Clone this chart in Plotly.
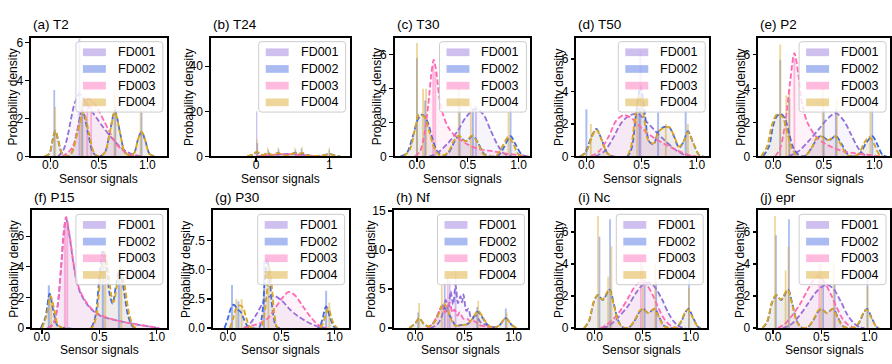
import plotly.graph_objects as go

# ---------------- data ----------------
SERIES = ["FD001", "FD002", "FD003", "FD004"]
SENSORS = ["T2", "T24", "T30", "T50", "P2", "P15", "P30", "Nf", "Nc", "epr"]
LETTERS = ["a", "b", "c", "d", "e", "f", "g", "h", "i", "j"]

X_TICK_VALS = [[0, 0.5, 1.0], [0, 1], [0, 0.5, 1.0], [0, 0.5, 1.0], [0, 0.5, 1.0],
               [0, 0.5, 1.0], [0, 0.5, 1.0], [0, 0.5, 1.0], [0, 0.5, 1.0], [0, 0.5, 1.0]]
X_TICK_TEXT = [["0.0", "0.5", "1.0"], ["0", "1"], ["0.0", "0.5", "1.0"], ["0.0", "0.5", "1.0"],
               ["0.0", "0.5", "1.0"], ["0.0", "0.5", "1.0"], ["0.0", "0.5", "1.0"],
               ["0.0", "0.5", "1.0"], ["0.0", "0.5", "1.0"], ["0.0", "0.5", "1.0"]]
Y_TICK_VALS = [[0, 2, 4, 6], [0, 20, 40], [0, 2, 4, 6], [0, 2, 4, 6], [0, 2, 4, 6],
               [0, 2, 4, 6], [0, 2.5, 5, 7.5], [0, 5, 10, 15], [0, 2, 4, 6], [0, 2, 4, 6]]
Y_TICK_TEXT = [["0", "2", "4", "6"], ["0", "20", "40"], ["0", "2", "4", "6"], ["0", "2", "4", "6"],
               ["0", "2", "4", "6"], ["0", "2", "4", "6"], ["0.0", "2.5", "5.0", "7.5"],
               ["0", "5", "10", "15"], ["0", "2", "4", "6"], ["0", "2", "4", "6"]]

# KDE curves: [signal, density]
KDE_T2 = {
    "FD001": [[0.08, 0], [0.13, 0.3], [0.17, 0.9], [0.21, 1.9], [0.25, 2.8], [0.3, 3.3], [0.35, 3.0],
              [0.41, 2.5], [0.48, 2.0], [0.55, 1.5], [0.62, 1.05], [0.7, 0.6], [0.77, 0.3], [0.85, 0.1], [0.95, 0]],
    "FD002": [[-0.06, 0], [-0.01, 0.15], [0.02, 0.8], [0.05, 1.35], [0.08, 0.85], [0.12, 0.15], [0.17, 0],
              [0.22, 0.2], [0.27, 1.2], [0.33, 2.4], [0.39, 1.2], [0.44, 0.2], [0.5, 0], [0.56, 0.2],
              [0.61, 1.2], [0.665, 2.4], [0.72, 1.2], [0.77, 0.2], [0.83, 0.05], [0.87, 0.25], [0.9, 0.85],
              [0.94, 1.3], [0.98, 0.8], [1.02, 0.15], [1.07, 0]],
    "FD003": [[0.12, 0], [0.18, 0.2], [0.23, 0.5], [0.3, 1.8], [0.35, 2.7], [0.39, 3.05], [0.44, 2.9],
              [0.49, 2.5], [0.55, 1.9], [0.62, 1.2], [0.68, 0.65], [0.74, 0.35], [0.8, 0.14], [0.88, 0.02], [0.95, 0]],
    "FD004": [[-0.06, 0], [-0.01, 0.15], [0.02, 0.8], [0.05, 1.35], [0.08, 0.9], [0.12, 0.15], [0.17, 0],
              [0.22, 0.2], [0.28, 1.25], [0.34, 2.35], [0.4, 1.2], [0.45, 0.2], [0.5, 0], [0.56, 0.2],
              [0.61, 1.2], [0.665, 2.35], [0.72, 1.2], [0.77, 0.2], [0.83, 0.05], [0.87, 0.25], [0.9, 0.85],
              [0.94, 1.3], [0.98, 0.8], [1.02, 0.15], [1.07, 0]],
}
KDE_T24 = {
    "FD001": [[0.05, 0], [0.2, 0.5], [0.35, 1.0], [0.5, 1.1], [0.65, 0.7], [0.8, 0.2], [0.95, 0]],
    "FD002": [[-0.12, 0], [-0.04, 0.8], [0.01, 2.0], [0.06, 0.9], [0.1, 0.6], [0.16, 1.5], [0.22, 0.6],
              [0.3, 1.4], [0.38, 0.4], [0.45, 0.6], [0.53, 1.6], [0.58, 1.0], [0.63, 1.5], [0.72, 0.4],
              [0.82, 0.2], [0.92, 0.5], [1.0, 1.1], [1.08, 0.3], [1.15, 0]],
    "FD003": [[0.0, 0], [0.15, 0.5], [0.3, 0.9], [0.45, 1.0], [0.6, 0.6], [0.75, 0.2], [0.9, 0]],
    "FD004": [[-0.12, 0], [-0.04, 0.9], [0.01, 2.1], [0.06, 1.0], [0.1, 0.6], [0.16, 1.5], [0.22, 0.6],
              [0.3, 1.5], [0.38, 0.4], [0.45, 0.6], [0.53, 1.5], [0.58, 1.0], [0.63, 1.6], [0.72, 0.4],
              [0.82, 0.2], [0.92, 0.5], [1.0, 1.0], [1.08, 0.3], [1.15, 0]],
}
KDE_T30 = {
    "FD001": [[0.12, 0], [0.2, 0.2], [0.3, 0.75], [0.4, 1.5], [0.48, 2.3], [0.57, 2.8], [0.65, 2.5],
              [0.72, 1.6], [0.8, 0.6], [0.86, 0.15], [0.93, 0]],
    "FD002": [[-0.16, 0], [-0.1, 0.2], [-0.04, 1.2], [0.01, 2.2], [0.05, 2.47], [0.1, 2.1], [0.15, 1.1],
              [0.2, 0.3], [0.26, 0.02], [0.32, 0.3], [0.37, 0.9], [0.41, 1.2], [0.48, 0.9], [0.55, 1.22],
              [0.6, 0.8], [0.66, 0.15], [0.72, 0], [0.8, 0.05], [0.86, 0.6], [0.92, 1.2], [0.97, 0.7],
              [1.03, 0.1], [1.08, 0]],
    "FD003": [[-0.02, 0], [0.03, 0.3], [0.07, 1.2], [0.11, 3.0], [0.14, 4.8], [0.165, 5.7], [0.19, 5.0],
              [0.22, 3.5], [0.26, 2.4], [0.32, 1.6], [0.4, 1.1], [0.5, 0.7], [0.6, 0.45], [0.75, 0.3],
              [0.9, 0.15], [1.0, 0.08], [1.1, 0]],
    "FD004": [[-0.13, 0], [-0.07, 0.4], [-0.02, 1.6], [0.02, 2.45], [0.07, 2.35], [0.12, 1.5], [0.17, 0.5],
              [0.23, 0.05], [0.3, 0.2], [0.36, 0.9], [0.41, 1.22], [0.48, 0.9], [0.54, 1.23], [0.6, 0.8],
              [0.65, 0.15], [0.71, 0], [0.78, 0.05], [0.84, 0.6], [0.9, 1.15], [0.95, 0.7], [1.0, 0.1], [1.05, 0]],
}
KDE_T50 = {
    "FD001": [[0.08, 0], [0.16, 0.3], [0.24, 1.1], [0.32, 2.1], [0.4, 2.55], [0.47, 2.6], [0.55, 2.1],
              [0.62, 1.6], [0.7, 1.05], [0.8, 0.45], [0.88, 0.12], [0.95, 0]],
    "FD002": [[-0.06, 0], [-0.01, 0.25], [0.04, 1.1], [0.09, 1.7], [0.14, 1.0], [0.19, 0.2], [0.24, 0],
              [0.37, 0], [0.41, 0.5], [0.45, 2.6], [0.49, 4.3], [0.53, 2.6], [0.57, 0.9], [0.61, 0.75],
              [0.65, 1.5], [0.7, 1.8], [0.75, 1.8], [0.79, 1.3], [0.84, 0.55], [0.88, 0.9], [0.92, 1.55],
              [0.97, 0.8], [1.02, 0.1], [1.06, 0]],
    "FD003": [[0.04, 0], [0.12, 0.35], [0.2, 1.2], [0.27, 2.2], [0.34, 2.55], [0.41, 2.35], [0.5, 1.75],
              [0.6, 1.2], [0.7, 0.8], [0.8, 0.45], [0.88, 0.2], [0.95, 0.05], [1.0, 0]],
    "FD004": [[-0.05, 0], [0.0, 0.3], [0.05, 1.2], [0.09, 1.65], [0.14, 1.0], [0.19, 0.2], [0.24, 0],
              [0.36, 0], [0.4, 0.5], [0.44, 2.3], [0.48, 3.8], [0.52, 2.5], [0.56, 1.0], [0.61, 0.8],
              [0.65, 1.5], [0.7, 1.75], [0.75, 1.8], [0.79, 1.35], [0.84, 0.6], [0.88, 0.9], [0.92, 1.5],
              [0.97, 0.8], [1.02, 0.1], [1.06, 0]],
}
KDE_P2 = {
    "FD001": [[0.15, 0], [0.25, 0.3], [0.35, 0.9], [0.45, 1.6], [0.55, 2.3], [0.62, 2.55], [0.7, 2.1],
              [0.77, 1.3], [0.84, 0.5], [0.9, 0.1], [0.96, 0]],
    "FD002": [[-0.1, 0], [-0.04, 0.6], [0.0, 1.8], [0.04, 2.4], [0.08, 2.5], [0.12, 2.2], [0.16, 1.3],
              [0.2, 0.5], [0.26, 0.05], [0.32, 0.05], [0.38, 0.5], [0.44, 1.1], [0.48, 1.2], [0.55, 0.95],
              [0.62, 1.2], [0.68, 0.7], [0.74, 0.1], [0.8, 0], [0.86, 0.2], [0.92, 0.8], [0.98, 1.2],
              [1.03, 0.7], [1.08, 0.1], [1.12, 0]],
    "FD003": [[0.02, 0], [0.07, 0.5], [0.12, 2.0], [0.17, 4.5], [0.21, 6.1], [0.25, 4.8], [0.29, 3.0],
              [0.34, 2.0], [0.42, 1.2], [0.5, 0.8], [0.6, 0.5], [0.7, 0.3], [0.8, 0.2], [0.9, 0.12],
              [1.0, 0.05], [1.08, 0]],
    "FD004": [[-0.12, 0], [-0.06, 0.6], [-0.01, 1.9], [0.04, 2.5], [0.09, 2.35], [0.14, 1.4], [0.19, 0.4],
              [0.25, 0], [0.32, 0.05], [0.38, 0.5], [0.43, 1.1], [0.47, 1.2], [0.53, 0.95], [0.57, 1.05],
              [0.61, 1.2], [0.67, 0.7], [0.73, 0.1], [0.8, 0], [0.85, 0.2], [0.9, 0.8], [0.95, 1.15],
              [1.0, 0.7], [1.05, 0.1], [1.09, 0]],
}
KDE_P15 = {
    "FD001": [[0.05, 0], [0.1, 0.3], [0.135, 1.4], [0.165, 3.8], [0.19, 6.2], [0.21, 7.15], [0.24, 6.0],
              [0.27, 4.4], [0.3, 3.1], [0.34, 2.2], [0.42, 1.3], [0.51, 0.8], [0.65, 0.5], [0.8, 0.27],
              [0.94, 0.1], [1.02, 0]],
    "FD002": [[-0.01, 0], [0.03, 0.7], [0.067, 2.25], [0.1, 1.1], [0.14, 0.1], [0.2, 0], [0.42, 0],
              [0.46, 0.6], [0.5, 3.3], [0.53, 5.1], [0.56, 4.0], [0.59, 2.2], [0.615, 1.6], [0.645, 2.8],
              [0.675, 3.8], [0.71, 2.6], [0.75, 0.8], [0.79, 0.1], [0.83, 0]],
    "FD003": [[0.05, 0], [0.1, 0.3], [0.135, 1.4], [0.165, 3.9], [0.19, 6.3], [0.21, 7.25], [0.24, 6.1],
              [0.27, 4.5], [0.3, 3.2], [0.34, 2.3], [0.42, 1.35], [0.51, 0.85], [0.65, 0.5], [0.8, 0.27],
              [0.94, 0.1], [1.02, 0]],
    "FD004": [[0.0, 0], [0.04, 0.8], [0.075, 2.1], [0.105, 1.3], [0.14, 0.2], [0.19, 0], [0.43, 0],
              [0.47, 0.7], [0.51, 3.4], [0.545, 4.95], [0.58, 3.6], [0.605, 2.1], [0.625, 1.7], [0.655, 2.9],
              [0.685, 3.95], [0.72, 2.8], [0.76, 0.9], [0.8, 0.1], [0.84, 0]],
}
KDE_P30 = {
    "FD001": [[0.15, 0], [0.2, 0.3], [0.27, 1.2], [0.34, 2.3], [0.42, 2.8], [0.5, 2.4], [0.58, 1.6],
              [0.66, 1.0], [0.74, 0.55], [0.82, 0.2], [0.88, 0.05], [0.92, 0]],
    "FD002": [[-0.03, 0], [0.0, 0.8], [0.04, 1.9], [0.06, 2.0], [0.09, 1.6], [0.12, 1.4], [0.15, 0.8],
              [0.19, 0.1], [0.22, 0], [0.29, 0], [0.32, 1.0], [0.35, 4.5], [0.37, 5.9], [0.39, 4.5],
              [0.42, 1.5], [0.45, 0.2], [0.48, 0], [0.85, 0], [0.88, 0.6], [0.92, 1.85], [0.96, 0.8],
              [1.0, 0.05], [1.03, 0]],
    "FD003": [[0.15, 0], [0.22, 0.2], [0.3, 0.4], [0.38, 0.9], [0.45, 1.8], [0.52, 2.7], [0.57, 3.1],
              [0.63, 2.8], [0.7, 1.9], [0.77, 1.0], [0.83, 0.4], [0.88, 0.1], [0.93, 0]],
    "FD004": [[0.02, 0], [0.05, 0.8], [0.08, 1.7], [0.11, 1.95], [0.14, 1.8], [0.17, 1.0], [0.2, 0.2],
              [0.23, 0], [0.31, 0], [0.34, 1.0], [0.37, 3.5], [0.39, 5.4], [0.41, 3.8], [0.44, 1.0],
              [0.47, 0], [0.86, 0], [0.9, 0.7], [0.94, 1.7], [0.98, 0.6], [1.02, 0]],
}
KDE_NF = {
    "FD001": [[0.15, 0], [0.22, 0.4], [0.27, 1.5], [0.31, 3.6], [0.335, 2.3], [0.36, 4.7], [0.385, 3.0],
              [0.41, 5.5], [0.435, 3.2], [0.46, 4.1], [0.475, 3.3], [0.49, 4.3], [0.52, 2.2], [0.54, 2.5],
              [0.57, 1.3], [0.62, 1.6], [0.66, 0.8], [0.72, 0.4], [0.8, 0.1], [0.85, 0]],
    "FD002": [[-0.06, 0], [0.0, 0.6], [0.04, 1.27], [0.09, 0.5], [0.14, 0.2], [0.2, 0.9], [0.25, 2.3],
              [0.28, 2.9], [0.32, 2.2], [0.37, 1.2], [0.41, 0.3], [0.47, 0.4], [0.53, 0.5], [0.58, 1.1],
              [0.63, 2.1], [0.68, 1.4], [0.73, 0.5], [0.78, 0.05], [0.85, 0.3], [0.92, 1.27], [0.98, 0.4],
              [1.03, 0]],
    "FD003": [[0.12, 0], [0.18, 0.6], [0.23, 1.8], [0.27, 2.8], [0.3, 2.0], [0.33, 2.9], [0.35, 3.2],
              [0.38, 2.0], [0.4, 2.4], [0.43, 1.6], [0.45, 2.0], [0.49, 1.2], [0.53, 1.2], [0.57, 0.7],
              [0.6, 0.9], [0.65, 0.4], [0.72, 0.2], [0.8, 0]],
    "FD004": [[-0.06, 0], [0.0, 0.6], [0.04, 1.27], [0.09, 0.5], [0.14, 0.2], [0.21, 1.0], [0.26, 2.6],
              [0.29, 3.2], [0.33, 2.3], [0.37, 1.0], [0.41, 0.3], [0.47, 0.4], [0.53, 0.5], [0.58, 1.2],
              [0.64, 2.2], [0.69, 1.3], [0.74, 0.4], [0.78, 0.05], [0.85, 0.3], [0.92, 1.27], [0.98, 0.4],
              [1.03, 0]],
}
KDE_NC = {
    "FD001": [[0.08, 0], [0.15, 0.15], [0.25, 0.7], [0.35, 1.4], [0.43, 2.2], [0.5, 2.7], [0.56, 2.85],
              [0.62, 2.6], [0.7, 1.8], [0.77, 0.9], [0.84, 0.3], [0.9, 0.05], [0.95, 0]],
    "FD002": [[-0.11, 0], [-0.06, 0.4], [-0.01, 1.6], [0.035, 2.08], [0.085, 1.75], [0.155, 2.4], [0.2, 1.5],
              [0.25, 0.4], [0.3, 0.03], [0.36, 0.05], [0.42, 0.5], [0.47, 1.05], [0.505, 1.2], [0.555, 0.95],
              [0.625, 1.2], [0.67, 0.7], [0.72, 0.15], [0.78, 0], [0.85, 0.05], [0.9, 0.4], [0.94, 0.95],
              [0.975, 1.2], [1.02, 0.7], [1.07, 0.1], [1.1, 0]],
    "FD003": [[0.06, 0], [0.12, 0.2], [0.2, 0.6], [0.28, 1.2], [0.36, 2.0], [0.43, 2.7], [0.48, 2.9],
              [0.54, 2.7], [0.6, 2.1], [0.66, 1.3], [0.72, 0.6], [0.78, 0.2], [0.84, 0.03], [0.88, 0]],
    "FD004": [[-0.11, 0], [-0.06, 0.45], [-0.01, 1.65], [0.03, 2.05], [0.08, 1.78], [0.15, 2.4], [0.2, 1.45],
              [0.25, 0.35], [0.3, 0.03], [0.36, 0.05], [0.42, 0.55], [0.47, 1.1], [0.5, 1.2], [0.555, 0.95],
              [0.62, 1.2], [0.67, 0.65], [0.72, 0.12], [0.78, 0], [0.85, 0.05], [0.9, 0.45], [0.94, 1.0],
              [0.97, 1.15], [1.02, 0.65], [1.07, 0.1], [1.1, 0]],
}
KDE_EPR = {
    "FD001": [[0.1, 0], [0.18, 0.2], [0.27, 0.75], [0.36, 1.5], [0.44, 2.2], [0.5, 2.55], [0.56, 2.7],
              [0.62, 2.5], [0.7, 1.7], [0.77, 0.85], [0.84, 0.3], [0.9, 0.05], [0.95, 0]],
    "FD002": [[-0.11, 0], [-0.06, 0.4], [-0.01, 1.6], [0.035, 2.05], [0.085, 1.75], [0.155, 2.4], [0.2, 1.5],
              [0.25, 0.4], [0.3, 0.03], [0.36, 0.05], [0.42, 0.5], [0.47, 1.05], [0.505, 1.2], [0.555, 0.95],
              [0.625, 1.2], [0.67, 0.7], [0.72, 0.15], [0.78, 0], [0.85, 0.05], [0.9, 0.4], [0.94, 0.95],
              [0.975, 1.2], [1.02, 0.7], [1.07, 0.1], [1.1, 0]],
    "FD003": [[0.05, 0], [0.12, 0.25], [0.2, 0.8], [0.28, 1.5], [0.36, 2.4], [0.42, 3.0], [0.47, 3.25],
              [0.53, 2.9], [0.6, 2.1], [0.66, 1.3], [0.72, 0.6], [0.78, 0.2], [0.84, 0.03], [0.88, 0]],
    "FD004": [[-0.11, 0], [-0.06, 0.45], [-0.01, 1.65], [0.03, 2.05], [0.08, 1.78], [0.15, 2.4], [0.2, 1.45],
              [0.25, 0.35], [0.3, 0.03], [0.36, 0.05], [0.42, 0.55], [0.47, 1.1], [0.5, 1.2], [0.555, 0.95],
              [0.62, 1.2], [0.67, 0.65], [0.72, 0.12], [0.78, 0], [0.85, 0.05], [0.9, 0.45], [0.94, 1.0],
              [0.97, 1.15], [1.02, 0.65], [1.07, 0.1], [1.1, 0]],
}

# tallest histogram bars: [signal, density]
SPIKES_T2 = {"FD001": [[0.3, 6.2]], "FD002": [[0.04, 3.5], [0.33, 3.0], [0.67, 2.6], [0.94, 2.3]],
             "FD003": [[0.38, 3.1], [0.42, 3.0]], "FD004": [[0.05, 2.6], [0.32, 2.9], [0.66, 3.5], [0.93, 2.6]]}
SPIKES_T24 = {"FD001": [[0.01, 20.0]], "FD002": [[0.02, 6.0], [0.17, 3.0], [0.31, 3.2], [0.54, 3.0], [0.62, 3.5], [1.0, 3.0]],
              "FD003": [], "FD004": [[0.01, 7.5], [0.16, 4.0], [0.3, 4.0], [0.53, 3.8], [0.63, 4.2], [1.0, 4.0]]}
SPIKES_T30 = {"FD001": [[0.58, 3.0]], "FD002": [[0.0, 5.8], [0.08, 3.3], [0.42, 2.9], [0.55, 2.8], [0.92, 3.3]],
              "FD003": [[0.16, 5.4], [0.18, 5.0]], "FD004": [[0.0, 6.7], [0.06, 4.0], [0.09, 4.0], [0.41, 4.0], [0.53, 3.2], [0.9, 2.6]]}
SPIKES_T50 = {"FD001": [[0.49, 6.5]], "FD002": [[0.0, 2.9], [0.48, 3.0], [0.65, 2.7], [0.9, 2.9]],
              "FD003": [], "FD004": [[0.04, 2.0], [0.46, 3.5], [0.72, 2.0], [0.92, 2.0]]}
SPIKES_P2 = {"FD001": [], "FD002": [[0.07, 5.7], [0.16, 3.4], [0.5, 2.8], [0.62, 2.8], [0.98, 3.3]],
             "FD003": [[0.21, 5.8]], "FD004": [[0.07, 6.6], [0.13, 3.6], [0.16, 4.0], [0.49, 4.0], [0.63, 3.4], [0.96, 3.0]]}
SPIKES_P15 = {"FD001": [], "FD002": [[0.06, 2.8], [0.53, 4.6], [0.67, 3.4]],
              "FD003": [[0.2, 6.8], [0.22, 7.0]], "FD004": [[0.08, 2.0], [0.55, 4.8], [0.69, 3.9]]}
SPIKES_P30 = {"FD001": [], "FD002": [[0.04, 3.7], [0.1, 2.3], [0.34, 5.8], [0.92, 3.2]],
              "FD003": [], "FD004": [[0.08, 2.5], [0.13, 2.5], [0.38, 5.5], [0.95, 2.2]]}
SPIKES_NF = {"FD001": [[0.35, 6.0], [0.41, 7.5]], "FD002": [[0.03, 2.0], [0.3, 5.8], [0.63, 2.7], [0.92, 2.5]],
             "FD003": [[0.33, 6.5]], "FD004": [[0.04, 3.2], [0.27, 5.5], [0.64, 3.5], [0.93, 2.0]]}
SPIKES_NC = {"FD001": [], "FD002": [[0.05, 5.7], [0.16, 6.8], [0.52, 3.0], [0.64, 2.9], [0.98, 3.0]],
             "FD003": [[0.48, 4.2]], "FD004": [[0.035, 7.0], [0.14, 3.2], [0.175, 5.1], [0.5, 3.9], [0.63, 4.0], [0.98, 2.5]]}
SPIKES_EPR = {"FD001": [], "FD002": [[0.03, 5.8], [0.165, 6.8], [0.52, 3.0], [0.64, 2.8], [0.98, 3.0]],
              "FD003": [[0.48, 4.0]], "FD004": [[0.02, 7.0], [0.13, 3.6], [0.16, 5.1], [0.5, 4.0], [0.63, 4.1], [0.98, 2.6]]}

KDE = {"T2": KDE_T2, "T24": KDE_T24, "T30": KDE_T30, "T50": KDE_T50, "P2": KDE_P2,
       "P15": KDE_P15, "P30": KDE_P30, "Nf": KDE_NF, "Nc": KDE_NC, "epr": KDE_EPR}
SPIKES = {"T2": SPIKES_T2, "T24": SPIKES_T24, "T30": SPIKES_T30, "T50": SPIKES_T50, "P2": SPIKES_P2,
          "P15": SPIKES_P15, "P30": SPIKES_P30, "Nf": SPIKES_NF, "Nc": SPIKES_NC, "epr": SPIKES_EPR}

# ---------------- layout / style ----------------
W, H = 892, 364
FONT = "Liberation Sans, Arial, sans-serif"
COLORS = {"FD001": (147, 112, 219), "FD002": (65, 105, 225), "FD003": (255, 105, 180), "FD004": (218, 165, 32)}
# panel frames in pixels: left, right, top, bottom
FRAMES = [(31, 167, 33, 156), (211, 350, 33, 156), (395, 531, 33, 156), (577, 710, 33, 156), (759, 891, 33, 156),
          (32, 167, 212, 334), (213, 349, 212, 334), (394, 529, 212, 334), (577, 708, 212, 334), (759, 891, 212, 334)]
X_RANGE = [[-0.2, 1.2], [-0.617, 1.277], [-0.22, 1.115], [-0.091, 1.113], [-0.148, 1.155],
           [-0.087, 1.087], [-0.14, 1.13], [-0.22, 1.15], [-0.19, 1.17], [-0.155, 1.214]]
Y_MAX = [6.25, 52.6, 7.0, 7.3, 7.0, 7.68, 10.1, 15.07, 7.35, 7.35]


def rgba(c, a):
    return f"rgba({c[0]},{c[1]},{c[2]},{a})"


def px(x):
    return x / W


def py(y):
    return 1 - y / H


def rounded_rect(x0, y0, x1, y1, r):
    def P(x, y):
        return f"{px(x):.5f},{py(y):.5f}"
    return " ".join([
        f"M {P(x0 + r, y0)}", f"L {P(x1 - r, y0)}", f"Q {P(x1, y0)} {P(x1, y0 + r)}",
        f"L {P(x1, y1 - r)}", f"Q {P(x1, y1)} {P(x1 - r, y1)}", f"L {P(x0 + r, y1)}",
        f"Q {P(x0, y1)} {P(x0, y1 - r)}", f"L {P(x0, y0 + r)}", f"Q {P(x0, y0)} {P(x0 + r, y0)} Z"])


fig = go.Figure()
layout = dict(width=W, height=H, margin=dict(l=0, r=0, t=0, b=0), showlegend=False,
              paper_bgcolor="white", plot_bgcolor="white", barmode="overlay",
              font=dict(family=FONT, size=12, color="black"))
shapes, annotations = [], []

for i, sensor in enumerate(SENSORS):
    n = i + 1
    sfx = "" if n == 1 else str(n)
    L, R, T, B = FRAMES[i]
    ax = dict(showline=True, linecolor="black", linewidth=2, mirror=True, ticks="outside",
              ticklen=3.5, tickwidth=1.2, tickcolor="black", showgrid=False, zeroline=False,
              tickfont=dict(family=FONT, size=12, color="black"))
    layout["xaxis" + sfx] = dict(ax, domain=[px(L), px(R)], anchor="y" + sfx, range=X_RANGE[i],
                                 tickmode="array", tickvals=X_TICK_VALS[i], ticktext=X_TICK_TEXT[i],
                                 ticklabelstandoff=-7)
    layout["yaxis" + sfx] = dict(ax, domain=[py(B), py(T)], anchor="x" + sfx, range=[0, Y_MAX[i]],
                                 tickmode="array", tickvals=Y_TICK_VALS[i], ticktext=Y_TICK_TEXT[i])

    spikes = SPIKES[sensor]
    for ser in SERIES:
        pts = spikes.get(ser, [])
        if pts:
            fig.add_trace(go.Bar(x=[p[0] for p in pts], y=[p[1] for p in pts], width=0.018,
                                 marker=dict(color=rgba(COLORS[ser], 0.45), line=dict(width=0)),
                                 xaxis="x" + sfx, yaxis="y" + sfx, hoverinfo="skip"))
    kde = KDE[sensor]
    for ser in SERIES:
        pts = kde[ser]
        fig.add_trace(go.Scatter(x=[p[0] for p in pts], y=[p[1] for p in pts], mode="lines",
                                 line=dict(color=rgba(COLORS[ser], 1), width=1.8, dash="5.5px,2.5px",
                                           shape="spline", smoothing=0.9),
                                 fill="tozeroy", fillcolor=rgba(COLORS[ser], 0.08),
                                 xaxis="x" + sfx, yaxis="y" + sfx, hoverinfo="skip"))

    # panel title
    annotations.append(dict(text=f"({LETTERS[i]}) {sensor}", x=px(L), y=py(T - 13.5), xref="paper", yref="paper",
                            xanchor="left", yanchor="middle", showarrow=False,
                            font=dict(family=FONT, size=13.5, color="black")))
    # axis titles
    annotations.append(dict(text="Sensor signals", x=px((L + R) / 2), y=py(B + 23), xref="paper", yref="paper",
                            xanchor="center", yanchor="middle", showarrow=False,
                            font=dict(family=FONT, size=12, color="black")))
    width_chars = max(len(t) for t in Y_TICK_TEXT[i])
    ylab_x = L - {1: 17.5, 2: 22, 3: 27}[width_chars]
    annotations.append(dict(text="Probability density", x=px(ylab_x), y=py((T + B) / 2), xref="paper",
                            yref="paper", xanchor="center", yanchor="middle", textangle=-90, showarrow=False,
                            font=dict(family=FONT, size=12, color="black")))
    # legend box
    lx1 = R - 4
    lx0 = lx1 - 87
    ly0 = T + 4
    ly1 = ly0 + 73
    shapes.append(dict(type="path", path=rounded_rect(lx0, ly0, lx1, ly1, 3), xref="paper", yref="paper",
                       fillcolor="rgba(255,255,255,0.8)", line=dict(color="#cccccc", width=1)))
    for k, ser in enumerate(SERIES):
        cy = ly0 + 11 + k * 17.3
        shapes.append(dict(type="rect", x0=px(lx0 + 7), x1=px(lx0 + 30), y0=py(cy - 4), y1=py(cy + 4),
                           xref="paper", yref="paper", fillcolor=rgba(COLORS[ser], 0.45), line=dict(width=0)))
        annotations.append(dict(text=ser, x=px(lx0 + 40), y=py(cy), xref="paper", yref="paper",
                                xanchor="left", yanchor="middle", showarrow=False,
                                font=dict(family=FONT, size=12.5, color="black")))

layout["shapes"] = shapes
layout["annotations"] = annotations
fig.update_layout(**layout)

fig.write_html("out.html", config={"displayModeBar": False, "staticPlot": True},
               post_script="document.body.style.margin='0';document.body.style.overflow='hidden';")
